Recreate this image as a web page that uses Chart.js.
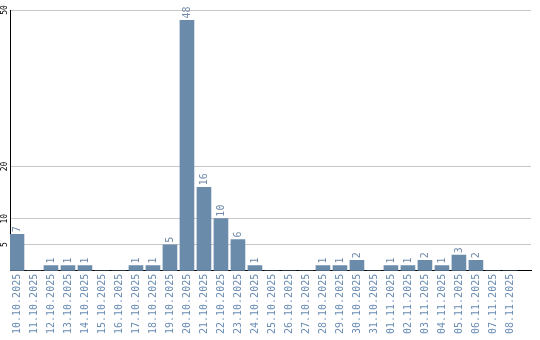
<!DOCTYPE html>
<html>
<head>
<meta charset="utf-8">
<script src="https://cdn.jsdelivr.net/npm/chart.js@4/dist/chart.umd.min.js"></script>
<style>
html,body{margin:0;padding:0;background:#fff;}
#wrap{width:540px;height:340px;position:relative;}
</style>
</head>
<body>
<div id="wrap"><canvas id="c" width="540" height="340"></canvas></div>
<script>
const dates = ["10.10.2025","11.10.2025","12.10.2025","13.10.2025","14.10.2025","15.10.2025","16.10.2025","17.10.2025","18.10.2025","19.10.2025","20.10.2025","21.10.2025","22.10.2025","23.10.2025","24.10.2025","25.10.2025","26.10.2025","27.10.2025","28.10.2025","29.10.2025","30.10.2025","31.10.2025","01.11.2025","02.11.2025","03.11.2025","04.11.2025","05.11.2025","06.11.2025","07.11.2025","08.11.2025"];
const counts = [7,0,1,1,1,0,0,1,1,5,48,16,10,6,1,0,0,0,1,1,2,0,1,1,2,1,3,2,0,0];
const yTicks = [5,10,20,50];

const points = dates.map((d, i) => ({x: i, y: counts[i]}));

const valueLabels = {
  id: 'valueLabels',
  afterDatasetsDraw(chart) {
    const ctx = chart.ctx;
    const meta = chart.getDatasetMeta(0);
    ctx.save();
    ctx.font = '10px "DejaVu Sans Mono"';
    ctx.fillStyle = '#7089a8';
    ctx.textAlign = 'left';
    ctx.textBaseline = 'middle';
    meta.data.forEach((bar, i) => {
      const v = counts[i];
      if (!v) return;
      ctx.save();
      ctx.translate(bar.x, bar.y - 2);
      ctx.rotate(-Math.PI / 2);
      ctx.fillText(String(v), 0, 0);
      ctx.restore();
    });
    ctx.restore();
  }
};

new Chart(document.getElementById('c'), {
  type: 'bar',
  data: {
    datasets: [{
      data: points,
      backgroundColor: '#6b8bab',
      borderWidth: 0,
      barThickness: 14
    }]
  },
  options: {
    responsive: false,
    animation: false,
    events: [],
    layout: {padding: {top: 10, right: 9, bottom: 3, left: 0}},
    plugins: {legend: {display: false}, tooltip: {enabled: false}},
    scales: {
      x: {
        type: 'linear',
        offset: false,
        min: -0.41,
        max: 30.24,
        afterBuildTicks: (axis) => { axis.ticks = dates.map((d, i) => ({value: i})); },
        afterFit: (axis) => { axis.paddingLeft = 0; axis.paddingRight = 0; },
        grid: {display: false, drawTicks: false, offset: false},
        border: {display: true, color: '#000', width: 1},
        ticks: {
          autoSkip: false,
          minRotation: 90,
          maxRotation: 90,
          padding: 3,
          color: '#6a8cb3',
          font: {family: '"DejaVu Sans Mono"', size: 10},
          callback: (v) => dates[v] !== undefined ? dates[v] : ''
        }
      },
      y: {
        min: 0,
        max: 50,
        afterBuildTicks: (axis) => { axis.ticks = yTicks.map(v => ({value: v})); },
        afterFit: (axis) => { axis.width = 10; axis.paddingTop = 0; axis.paddingBottom = 0; },
        grid: {color: '#c8c8c8', lineWidth: 1, drawTicks: false},
        border: {display: true, color: '#000', width: 1},
        ticks: {
          minRotation: 90,
          maxRotation: 90,
          crossAlign: 'center',
          padding: 0,
          color: '#000',
          font: {family: '"DejaVu Sans Mono"', size: 8}
        }
      }
    }
  },
  plugins: [valueLabels]
});
</script>
</body>
</html>
